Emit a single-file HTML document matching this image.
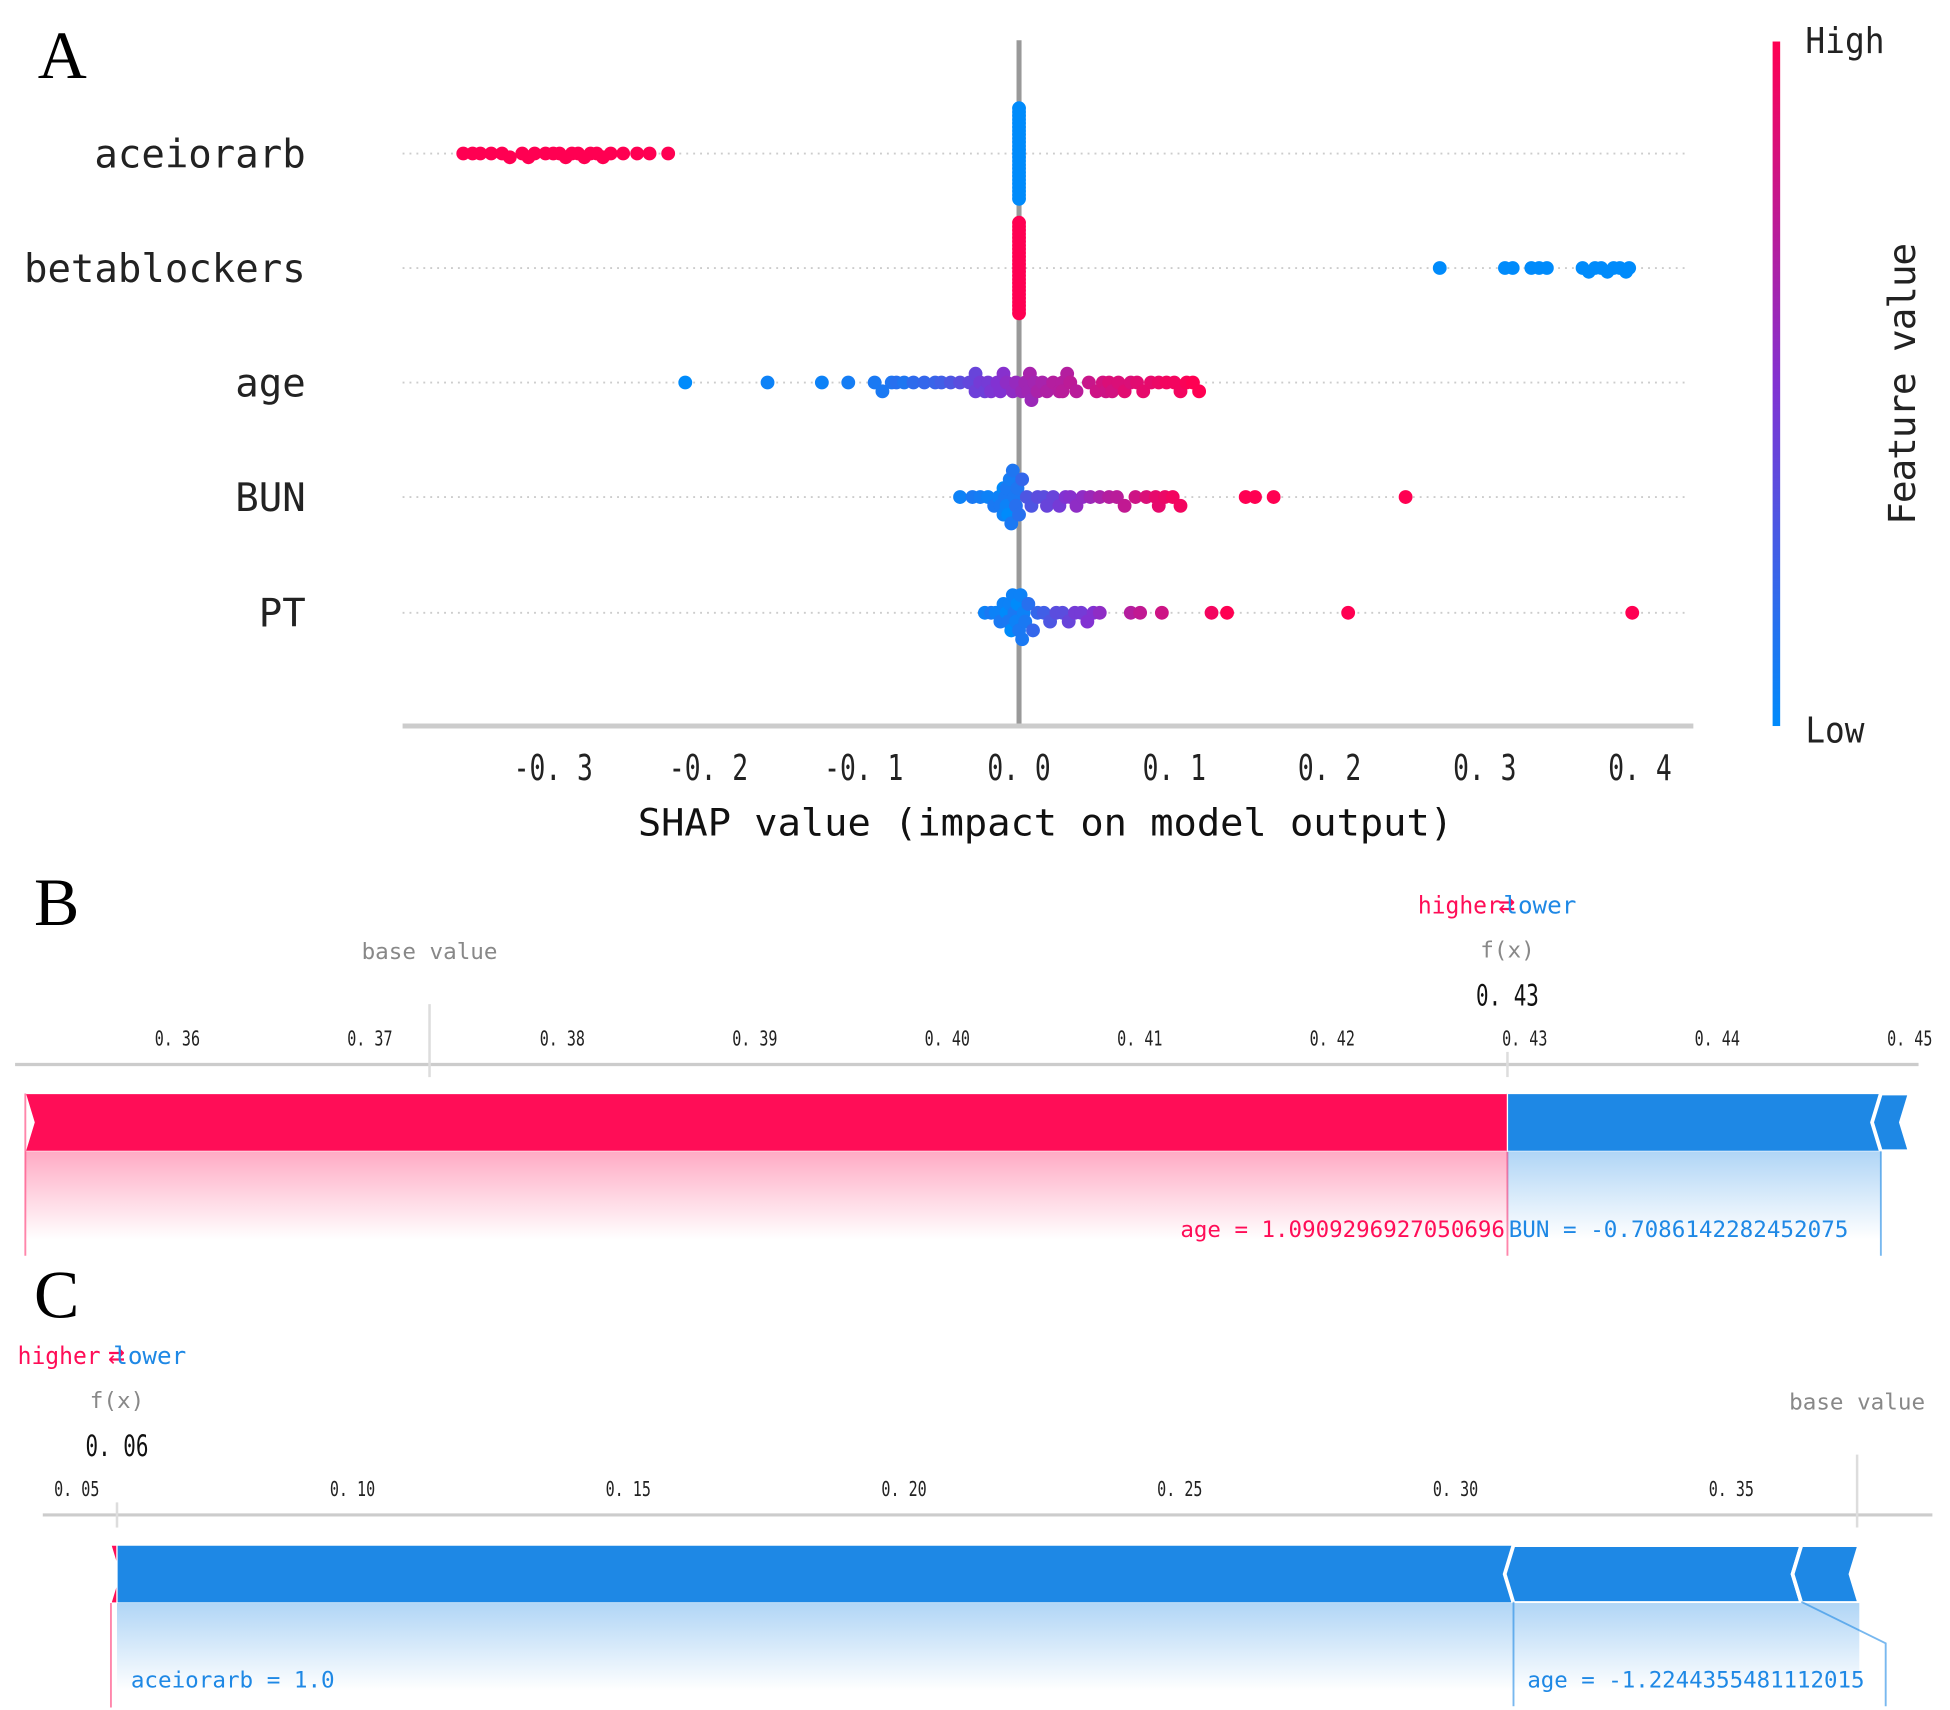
<!DOCTYPE html>
<html><head><meta charset="utf-8"><style>
html,body{margin:0;padding:0;background:#fff}
svg{display:block}
text{font-family:"DejaVu Sans Mono","Liberation Mono","Noto Sans CJK SC",monospace}
text.serif{font-family:"Liberation Serif",serif}
</style></head><body>
<svg id="fig" width="1950" height="1710" viewBox="0 0 1550 1359" preserveAspectRatio="none" xmlns="http://www.w3.org/2000/svg">
<defs>
<linearGradient id="pinkfade" x1="0" y1="0" x2="0" y2="1"><stop offset="0" stop-color="#ff0d57" stop-opacity="0.35"/><stop offset="1" stop-color="#ff0d57" stop-opacity="0"/></linearGradient>
<linearGradient id="bluefade" x1="0" y1="0" x2="0" y2="1"><stop offset="0" stop-color="#1e88e5" stop-opacity="0.35"/><stop offset="1" stop-color="#1e88e5" stop-opacity="0"/></linearGradient>
<linearGradient id="cbar" x1="0" y1="1" x2="0" y2="0"><stop offset="0" stop-color="#008bfb"/><stop offset="0.5" stop-color="#8232d2"/><stop offset="1" stop-color="#ff0052"/></linearGradient>
</defs>
<g id="panelA"></g>
<g id="panelB"></g>
<g id="panelC"></g>
</svg>
<script>
// ---------- Panel A data ----------
const features = ["aceiorarb","betablockers","age","BUN","PT"];
const xTicks = [-0.3,-0.2,-0.1,0.0,0.1,0.2,0.3,0.4];
const xTickLabels = ["-0. 3","-0. 2","-0. 1","0. 0","0. 1","0. 2","0. 3","0. 4"];
const aceShap = [-0.358,-0.352,-0.347,-0.340,-0.333,-0.328,-0.320,-0.316,-0.312,-0.305,-0.300,-0.296,-0.292,-0.288,-0.284,-0.280,-0.276,-0.272,-0.268,-0.263,-0.255,-0.246,-0.238,-0.226,
 0,0,0,0,0,0,0,0,0,0,0,0,0,0,0,0,0,0,0,0,0,0,0,0,0];
const aceFv = [1,1,1,1,1,1,1,1,1,1,1,1,1,1,1,1,1,1,1,1,1,1,1,1,
 0,0,0,0,0,0,0,0,0,0,0,0,0,0,0,0,0,0,0,0,0,0,0,0,0];
const betaShap = [0,0,0,0,0,0,0,0,0,0,0,0,0,0,0,0,0,0,0,0,0,0,0,0,0,
 0.271,0.313,0.318,0.330,0.335,0.340,0.363,0.367,0.371,0.375,0.379,0.383,0.387,0.391,0.393];
const betaFv = [1,1,1,1,1,1,1,1,1,1,1,1,1,1,1,1,1,1,1,1,1,1,1,1,1,
 0,0,0,0,0,0,0,0,0,0,0,0,0,0,0];
const ageShap = [-0.215,-0.162,-0.127,-0.110,-0.093,-0.088,-0.082,-0.079,-0.074,-0.068,-0.061,-0.054,-0.050,-0.044,-0.038,-0.032,-0.028,-0.028,-0.025,-0.022,-0.020,-0.018,-0.014,-0.012,-0.010,-0.008,-0.004,-0.002,0.002,0.004,0.006,0.007,0.008,0.010,0.012,0.015,0.018,0.022,0.026,0.028,0.028,0.031,0.033,0.037,0.045,0.050,0.054,0.056,0.058,0.060,0.064,0.068,0.072,0.076,0.080,0.085,0.090,0.095,0.100,0.104,0.108,0.112,0.116];
const ageFv = [0,0.05,0.05,0.08,0.1,0.1,0.12,0.15,0.12,0.18,0.2,0.22,0.25,0.3,0.35,0.38,0.42,0.4,0.45,0.42,0.45,0.48,0.5,0.5,0.52,0.55,0.55,0.58,0.6,0.62,0.62,0.65,0.6,0.63,0.66,0.65,0.68,0.7,0.7,0.7,0.72,0.7,0.73,0.72,0.78,0.8,0.82,0.8,0.85,0.82,0.85,0.88,0.85,0.88,0.9,0.9,0.92,0.95,0.95,0.95,0.98,1,1];
const bunShap = [-0.038,-0.030,-0.025,-0.020,-0.016,-0.013,-0.012,-0.010,-0.010,-0.009,-0.008,-0.008,-0.007,-0.006,-0.005,-0.004,-0.003,-0.002,-0.001,0.000,0.002,0.005,0.008,0.012,0.016,0.018,0.022,0.026,0.030,0.033,0.037,0.041,0.046,0.052,0.058,0.063,0.068,0.075,0.082,0.088,0.090,0.094,0.099,0.104,0.146,0.152,0.164,0.249];
const bunFv = [0.05,0.1,0.08,0.05,0.1,0.05,0.1,0,0.05,0.1,0.05,0.1,0,0.08,0.1,0.12,0.1,0.15,0.12,0.15,0.2,0.3,0.3,0.35,0.35,0.4,0.4,0.45,0.5,0.52,0.55,0.55,0.6,0.65,0.7,0.72,0.75,0.8,0.85,0.9,0.9,0.92,0.95,0.95,1,1,1,1];
const ptShap = [-0.022,-0.018,-0.015,-0.012,-0.010,-0.008,-0.007,-0.006,-0.005,-0.004,-0.003,-0.002,-0.001,0.000,0.001,0.002,0.003,0.004,0.006,0.009,0.012,0.016,0.020,0.024,0.028,0.032,0.036,0.040,0.044,0.048,0.052,0.072,0.078,0.092,0.124,0.134,0.212,0.395];
const ptFv = [0.05,0.1,0.05,0.1,0.05,0,0.1,0.05,0,0.05,0.1,0.05,0,0.1,0.05,0.1,0.05,0.1,0.15,0.2,0.2,0.25,0.3,0.35,0.35,0.4,0.45,0.45,0.5,0.5,0.55,0.7,0.75,0.8,0.95,1,1,1];

// ---------- Panel B data ----------
const bTicks = [0.36,0.37,0.38,0.39,0.40,0.41,0.42,0.43,0.44,0.45];
const bBase = 0.3731, bFx = 0.4291;
const bPosNames = ["age = 1.0909296927050696"];
const bPosVals = [0.0770];
const bNegNames = ["BUN = -0.7086142282452075",""];
const bNegVals = [0.0194,0.0015];
// ---------- Panel C data ----------
const cTicks = [0.05,0.10,0.15,0.20,0.25,0.30,0.35];
const cBase = 0.3728, cFx = 0.0573;
const cPosVals = [0.0011];
const cNegNames = ["aceiorarb = 1.0","age = -1.2244355481112015",""];
const cNegVals = [0.2532,0.0522,0.0105];

const NS="http://www.w3.org/2000/svg";
function mk(parent,tag,attrs,txt){const e=document.createElementNS(NS,tag);for(const k in attrs)e.setAttribute(k,attrs[k]);if(txt!==undefined)e.textContent=txt;parent.appendChild(e);return e;}

// ---------- Panel A ----------
(function(){
const g=document.getElementById('panelA');
const xA=v=>810+v*1234;
const rowY=[122,213,304,395,487];
const t=mk(g,'text',{x:30,y:62,'font-size':54,class:'serif'},'A');


rowY.forEach((y,i)=>{
 const l=mk(g,'line',{x1:320,x2:1342,y1:y,y2:y,stroke:'#ccc','stroke-width':1.5,'stroke-dasharray':'1.5,4'});
 
 
 const lb=mk(g,'text',{x:243,y:y+11,'text-anchor':'end','font-size':31,fill:'#222'},features[i]);
 
 
});
const z=mk(g,'line',{x1:810,x2:810,y1:32,y2:577,stroke:'#999','stroke-width':4});


const ax=mk(g,'line',{x1:320,x2:1346,y1:577,y2:577,stroke:'#ccc','stroke-width':4});


xTicks.forEach((v,i)=>{
 const lbl=xTickLabels[i];
 const tk=mk(g,'text',{x:xA(v),y:620,'text-anchor':'middle','font-size':28,fill:'#222',textLength:lbl.length*12.6,lengthAdjust:'spacingAndGlyphs'},lbl);
 
 
});
const at=mk(g,'text',{x:831,y:664,'text-anchor':'middle','font-size':30,fill:'#111',textLength:648,lengthAdjust:'spacingAndGlyphs'},'SHAP value (impact on model output)');


function col(f){const a=[0,139,251],m=[130,50,210],b=[255,0,82];let c;
 if(f<0.5){const u=f/0.5;c=a.map((x,i)=>x+(m[i]-x)*u);}else{const u=(f-0.5)/0.5;c=m.map((x,i)=>x+(b[i]-x)*u);}
 return 'rgb('+c.map(Math.round).join(',')+')';}
const sets=[[aceShap,aceFv],[betaShap,betaFv],[ageShap,ageFv],[bunShap,bunFv],[ptShap,ptFv]];
sets.forEach(([s,f],r)=>{
 const bins={};const idx=s.map((v,i)=>i);
 const info=idx.map(i=>{const b=Math.round(s[i]/0.006);bins[b]=(bins[b]||0)+1;return [i,b,bins[b]-1];});
 let mx=1;for(const k in bins)mx=Math.max(mx,Math.ceil((bins[k]-1)/2));
 const step=Math.min(7,36/mx);
 info.forEach(([i,b,k])=>{
  const off=Math.ceil(k/2)*(k%2?1:-1)*step;
  const c=mk(g,'circle',{cx:xA(s[i]),cy:rowY[r]+off,r:5.5,fill:col(f[i])});
  
  
 });
});
const cb=mk(g,'rect',{x:1409,y:33,width:6,height:544,fill:'url(#cbar)'});


const hi=mk(g,'text',{x:1435,y:42,'font-size':28,fill:'#222',textLength:63,lengthAdjust:'spacingAndGlyphs'},'High');


const lo=mk(g,'text',{x:1435,y:590,'font-size':28,fill:'#222',textLength:47,lengthAdjust:'spacingAndGlyphs'},'Low');


const fv=mk(g,'text',{x:0,y:0,'font-size':30,fill:'#222','text-anchor':'middle',transform:'translate(1522,305) rotate(-90)',textLength:224,lengthAdjust:'spacing'},'Feature value');


})();

// ---------- Force plot helper ----------
function force(g,o){
 const X=v=>o.x0+(v-o.t0)*o.k;
 const y0=o.barY,h=46,y1=y0+h,mid=y0+h/2;
 const ax=mk(g,'line',{x1:o.axL,x2:o.axR,y1:o.axY,y2:o.axY,stroke:'#ccc','stroke-width':2.5});
 
 
 o.ticks.forEach(v=>{
  const t=mk(g,'text',{x:X(v),y:o.axY-15,'text-anchor':'middle','font-size':16,fill:'#222',textLength:36,lengthAdjust:'spacingAndGlyphs'},v.toFixed(2).replace('.','. '));
  
  
 });
 const bx=X(o.base);
 const bl=mk(g,'line',{x1:bx,x2:bx,y1:o.axY-48,y2:o.axY+10,stroke:'#ddd','stroke-width':2});
 
 
 const bt=mk(g,'text',{x:bx,y:o.axY-84,'text-anchor':'middle','font-size':18,fill:'#888',textLength:108,lengthAdjust:'spacingAndGlyphs'},'base value');
 
 
 const fx=X(o.fx);
 const fl=mk(g,'line',{x1:fx,x2:fx,y1:o.axY-10,y2:o.axY+10,stroke:'#ddd','stroke-width':2});
 
 
 const ft=mk(g,'text',{x:fx,y:o.axY-85,'text-anchor':'middle','font-size':18,fill:'#888'},'f(x)');
 
 
 const fv=mk(g,'text',{x:fx,y:o.axY-47,'text-anchor':'middle','font-size':23,fill:'#111',textLength:50,lengthAdjust:'spacingAndGlyphs'},o.fx.toFixed(2).replace('.','. '));
 
 
 const hl=mk(g,'text',{x:o.hlX,y:o.axY-120,'text-anchor':'end','font-size':19,fill:'#ff0d57',textLength:66,lengthAdjust:'spacingAndGlyphs'},'higher');
 
 
 const ar=mk(g,'text',{x:o.hlX+(o.arGap||0),y:o.axY-120,'font-size':22,fill:'#ff0d57'},'⇄');
 
 
 const lw=mk(g,'text',{x:o.hlX+(o.arGap||0)+4,y:o.axY-120,'font-size':19,fill:'#1e88e5',textLength:58,lengthAdjust:'spacingAndGlyphs'},'lower');
 
 
 // positive (red) segments end at fx, going left; arrows point right
 let cur=o.fx;
 o.pos.forEach((v,i)=>{
  const a=X(cur-v),b=X(cur);
  const tip=i===0?b:b+7;
  const p=mk(g,'polygon',{points:`${a},${y0} ${b},${y0} ${tip},${mid} ${b},${y1} ${a},${y1} ${a+7},${mid}`,fill:'#ff0d57',stroke:'#fff','stroke-width':1});
  
  
  if(o.posNames&&o.posNames[i]){
   const gr=mk(g,'rect',{x:a,y:y1,width:b-a,height:70,fill:'url(#pinkfade)'});
   
   
   [a,b].forEach(xx=>{const l=mk(g,'line',{x1:xx,x2:xx,y1:y0,y2:y1+83,stroke:'#ff0d57','stroke-opacity':0.5,'stroke-width':1.5});
    
    });
   const lt=mk(g,'text',{x:b-2,y:y1+68,'text-anchor':'end','font-size':18,fill:'#ff0d57',textLength:258,lengthAdjust:'spacingAndGlyphs'},o.posNames[i]);
   
   
  } else {
   const l=mk(g,'line',{x1:a,x2:a,y1:y1,y2:y1+83,stroke:'#ff0d57','stroke-opacity':0.5,'stroke-width':1.5});
   
   
  }
  cur-=v;
 });
 // negative (blue) segments start at fx going right; arrows point left
 cur=o.fx;
 o.neg.forEach((v,i)=>{
  const a=X(cur),b=X(cur+v);
  const tipL=i===0?a:a-7;
  const p=mk(g,'polygon',{points:`${a},${y0} ${b},${y0} ${b-7},${mid} ${b},${y1} ${a},${y1} ${tipL},${mid}`,fill:'#1e88e5',stroke:'#fff','stroke-width':i?3:1});
  
  
  cur+=v;
 });
}

// ---------- Panel B ----------
(function(){
const g=document.getElementById('panelB');
const t=mk(g,'text',{x:27,y:735,'font-size':54,class:'serif'},'B');


force(g,{x0:141,t0:0.36,k:15300,axL:12,axR:1525,axY:846,barY:869,ticks:bTicks,base:bBase,fx:bFx,hlX:1193,arGap:-2,pos:bPosVals,posNames:bPosNames,neg:bNegVals});
const X=v=>141+(v-0.36)*15300;
const a=X(bFx),b=X(bFx+bNegVals[0]);
const gr=mk(g,'rect',{x:a,y:915,width:b-a,height:70,fill:'url(#bluefade)'});


const l=mk(g,'line',{x1:b,x2:b,y1:915,y2:998,stroke:'#1e88e5','stroke-opacity':0.6,'stroke-width':1.5});


const lt=mk(g,'text',{x:a+1,y:983,'font-size':18,fill:'#1e88e5',textLength:270,lengthAdjust:'spacingAndGlyphs'},bNegNames[0]);


})();

// ---------- Panel C ----------
(function(){
const g=document.getElementById('panelC');
const t=mk(g,'text',{x:27,y:1047,'font-size':54,class:'serif'},'C');


force(g,{x0:61,t0:0.05,k:4384,axL:34,axR:1536,axY:1204,barY:1228,ticks:cTicks,base:cBase,fx:cFx,hlX:80,arGap:6,pos:cPosVals,posNames:null,neg:cNegVals});
const X=v=>61+(v-0.05)*4384;
const a0=X(cFx),aEnd=X(cFx+cNegVals[0]+cNegVals[1]+cNegVals[2]);
const gr=mk(g,'rect',{x:a0,y:1274,width:aEnd-a0,height:70,fill:'url(#bluefade)'});


const bx1=X(cFx+cNegVals[0]), bx2=X(cFx+cNegVals[0]+cNegVals[1]);
const l1=mk(g,'line',{x1:bx1,x2:bx1,y1:1273,y2:1356,stroke:'#1e88e5','stroke-opacity':0.6,'stroke-width':1.5});


const l2=mk(g,'polyline',{points:`${bx2},1273 ${bx2+67},1306 ${bx2+67},1356`,fill:'none',stroke:'#1e88e5','stroke-opacity':0.6,'stroke-width':1.5});


const t1=mk(g,'text',{x:a0+11,y:1341,'font-size':18,fill:'#1e88e5',textLength:162,lengthAdjust:'spacingAndGlyphs'},cNegNames[0]);


const t2=mk(g,'text',{x:bx1+11,y:1341,'font-size':18,fill:'#1e88e5',textLength:268,lengthAdjust:'spacingAndGlyphs'},cNegNames[1]);


})();
</script>
</body></html>
